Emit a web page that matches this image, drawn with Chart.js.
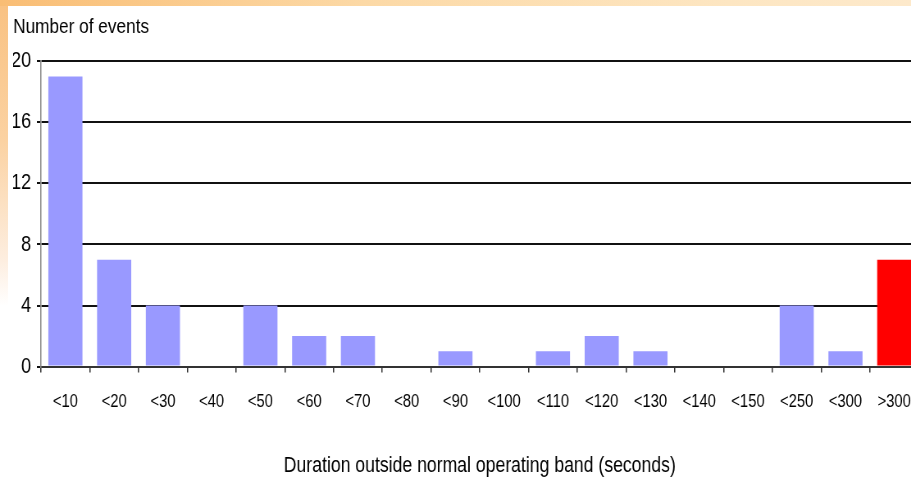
<!DOCTYPE html>
<html>
<head>
<meta charset="utf-8">
<script src="https://cdn.jsdelivr.net/npm/chart.js@4"></script>
<style>
  html, body { margin: 0; padding: 0; background: #fff; overflow: hidden; width: 911px; height: 483px; }
  #topStrip { position: absolute; left: 0; top: 0; width: 911px; height: 6px;
    background: linear-gradient(to right, #f9bd74, #fcd9a6 40%, #fde6c2 80%, #fde9cb); }
  #leftStrip { position: absolute; left: 0; top: 6px; width: 8px; height: 300px;
    background: linear-gradient(to bottom, #f9c283, #fbd2a2 45%, #fdeee0 85%, #ffffff); }
  /* the source uses a condensed face; squeeze the whole drawing horizontally */
  #wrap { position: absolute; left: 0; top: 0; width: 1130px; height: 483px;
    transform: scaleX(0.82); transform-origin: 0 0; }
</style>
</head>
<body>
<div id="topStrip"></div>
<div id="leftStrip"></div>
<div id="wrap"><canvas id="eventsChart" width="1130" height="483"></canvas></div>
<script>
(function () {
  const categories = ["<10", "<20", "<30", "<40", "<50", "<60", "<70", "<80", "<90",
    "<100", "<110", "<120", "<130", "<140", "<150", "<250", "<300", ">300"];
  const eventCounts = [19, 7, 4, 0, 4, 2, 2, 0, 1, 0, 1, 2, 1, 0, 0, 4, 1, 7];
  const yTicks = [0, 4, 8, 12, 16, 20];

  const FONT = "'Liberation Sans', Arial, sans-serif";

  const barColors = categories.map((c) => (c === ">300" ? "#ff0000" : "#9999ff"));

  const ctx = document.getElementById("eventsChart").getContext("2d");

  new Chart(ctx, {
    type: "bar",
    data: {
      labels: categories,
      datasets: [
        {
          label: "Number of events",
          data: eventCounts,
          backgroundColor: barColors,
          borderWidth: 0,
          barPercentage: 0.7,
          categoryPercentage: 1.0
        }
      ]
    },
    options: {
      responsive: false,
      animation: false,
      layout: {
        padding: { left: 16, right: 8, top: 0, bottom: 4 }
      },
      plugins: {
        legend: { display: false },
        tooltip: { enabled: false },
        title: {
          display: true,
          text: "Number of events",
          align: "start",
          color: "#000",
          font: { family: FONT, size: 21, weight: "normal" },
          padding: { top: 15, bottom: 21 }
        }
      },
      scales: {
        x: {
          offset: true,
          grid: {
            display: true,
            drawOnChartArea: false,
            drawTicks: true,
            tickLength: 6,
            offset: true,
            color: "#333",
            lineWidth: 1.5
          },
          border: { display: true, color: "#333", width: 2 },
          ticks: {
            color: "#000",
            padding: 19,
            maxRotation: 0,
            autoSkip: false,
            font: { family: FONT, size: 18 }
          },
          title: {
            display: true,
            text: "Duration outside normal operating band (seconds)",
            color: "#000",
            font: { family: FONT, size: 21.5, weight: "normal" },
            padding: { top: 21, bottom: 0 }
          }
        },
        y: {
          min: 0,
          max: 20,
          afterBuildTicks: function (axis) {
            axis.ticks = yTicks.map((v) => ({ value: v }));
          },
          afterFit: function (axis) {
            // keep the plot's left edge where the source has it
            axis.width = 34;
          },
          grid: {
            color: "#111",
            lineWidth: 2,
            drawTicks: true,
            tickLength: 5
          },
          border: { display: true, color: "#888", width: 1.5 },
          ticks: {
            color: "#000",
            padding: 7,
            font: { family: FONT, size: 22 }
          }
        }
      }
    }
  });
})();
</script>
</body>
</html>
